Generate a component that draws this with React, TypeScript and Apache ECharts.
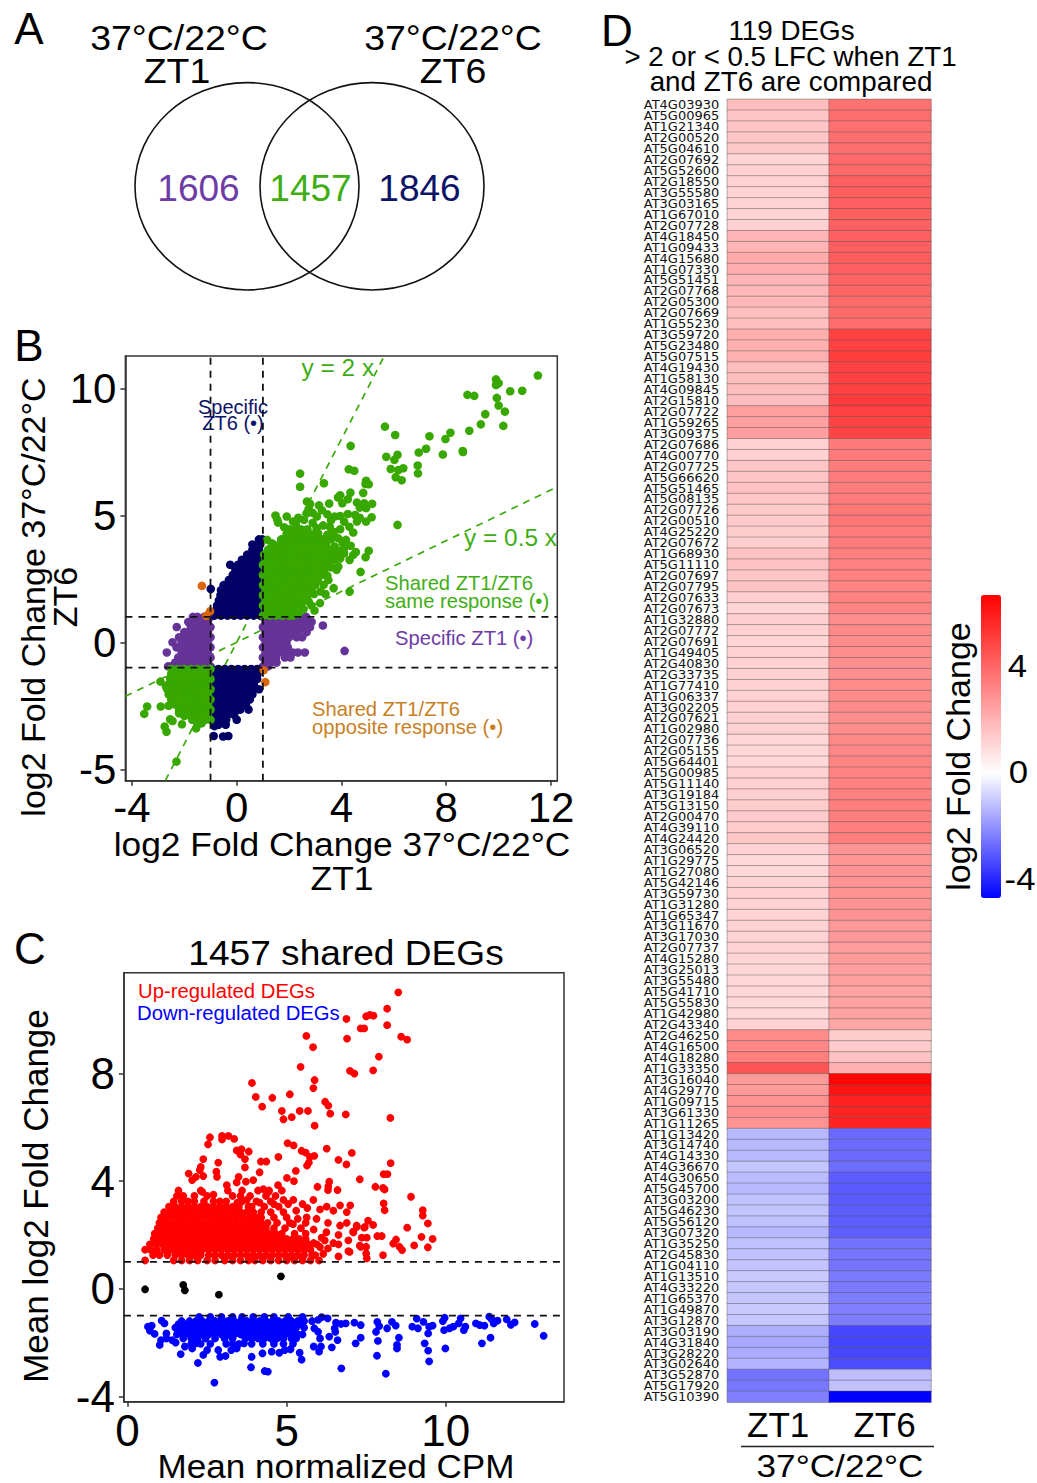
import React, { useEffect, useRef } from "react";
import * as echarts from "echarts";

type Row = [number, number[]];
const expand = (rows: Row[]) => rows.flatMap(([y, xs]) => xs.map((x) => [x, y]));

const geneLabels = ["AT4G03930","AT5G00965","AT1G21340","AT2G00520","AT5G04610","AT2G07692","AT5G52600","AT2G18550","AT3G55580","AT3G03165","AT1G67010","AT2G07728","AT4G18450","AT1G09433","AT4G15680","AT1G07330","AT5G51451","AT2G07768","AT2G05300","AT2G07669","AT1G55230","AT3G59720","AT5G23480","AT5G07515","AT4G19430","AT1G58130","AT4G09845","AT2G15810","AT2G07722","AT1G59265","AT3G09375","AT2G07686","AT4G00770","AT2G07725","AT5G66620","AT5G51465","AT5G08135","AT2G07726","AT2G00510","AT4G25220","AT2G07672","AT1G68930","AT5G11110","AT2G07697","AT2G07795","AT2G07633","AT2G07673","AT1G32880","AT2G07772","AT2G07691","AT1G49405","AT2G40830","AT2G33735","AT1G77410","AT1G06337","AT3G02205","AT2G07621","AT1G02980","AT2G07736","AT2G05155","AT5G64401","AT5G00985","AT5G11140","AT3G19184","AT5G13150","AT2G00470","AT4G39110","AT4G24420","AT3G06520","AT1G29775","AT1G27080","AT5G42146","AT3G59730","AT1G31280","AT1G65347","AT3G11670","AT3G17030","AT2G07737","AT4G15280","AT3G25013","AT3G55480","AT5G41710","AT5G55830","AT1G42980","AT2G43340","AT2G46250","AT4G16500","AT4G18280","AT1G33350","AT3G16040","AT4G29770","AT1G09715","AT3G61330","AT1G11265","AT1G13420","AT3G14740","AT4G14330","AT4G36670","AT4G30650","AT5G45700","AT3G03200","AT5G46230","AT5G56120","AT3G07320","AT1G35250","AT2G45830","AT1G04110","AT1G13510","AT4G33220","AT1G65370","AT1G49870","AT3G12870","AT3G03190","AT4G31840","AT3G28220","AT3G02640","AT3G52870","AT5G17920","AT5G10390"];
const heatColumns = ["ZT1", "ZT6"];
const zt1Values = [1.75,1.55,1.55,1.5,1.45,1.1,1.2,1.2,1.15,1.15,1.15,1.2,1.95,1.95,2.2,2.15,1.95,1.9,1.9,1.7,1.65,2.15,2.1,2.1,1.7,1.7,1.7,1.7,2.55,2.5,2.55,1.25,1.2,1.55,1.55,1.6,1.5,1.4,1.4,1.35,1.3,1.6,1.6,1.5,1.6,1.3,1.1,1.3,1.2,1.1,1.2,1.2,1.2,1.2,1.2,1.25,1.25,1.25,1.05,1.05,1,1.25,1.3,1.3,1.35,1.4,1.4,1.5,1.15,1,1.05,1.15,1.2,1.15,1.15,1.15,1.15,1.15,1.1,1.05,1.05,1,1,1,1.15,3.05,3.15,3.35,4.5,2.65,2.65,2.9,2.95,2.85,-1.3,-1.3,-1.3,-1.05,-1.25,-1.3,-1.15,-1.1,-1.15,-1.3,-1.15,-1.15,-1.1,-1,-1.05,-1.05,-1,-1.05,-1.5,-1.6,-1.55,-1.4,-2.6,-2.5,-2.35];
const zt6Values = [3.7,3.8,3.75,3.8,3.8,3.95,3.95,4.2,4.2,4.2,4.2,4.15,4.2,4.2,4.25,4.2,4.1,4.05,3.9,3.9,3.85,4.95,5,5.1,5,5,5,5.15,5,4.95,4.9,3.5,3.5,3.45,3.45,3.45,3.5,3.55,3.6,3.45,3.45,3.35,3.3,3.3,3.25,3.25,3.2,2.95,3.1,3.05,3,2.95,2.95,3.05,3.05,3.05,3,3,3.1,3.15,3.2,3.25,3.3,3.3,3.35,3.4,3.4,3.4,2.8,2.75,2.85,2.85,2.85,2.85,2.85,2.7,2.7,2.6,2.65,2.55,2.55,2.45,2.45,2.45,2.3,1.35,1.35,1.6,2.05,6.6,6.2,5.8,5.75,5.75,-2.75,-2.75,-2.75,-2.7,-3,-3.05,-3.05,-3,-3,-2.95,-2.6,-2.55,-2.55,-2.45,-2.45,-2.4,-2.35,-2.4,-3.4,-3.45,-3.4,-3.3,-1.2,-1.15,-4.7];

const bTicksX = [-4, 0, 4, 8, 12];
const bTicksY = [-5, 0, 5, 10];
const cTicksX = [0, 5, 10];
const cTicksY = [-4, 0, 4, 8];

const bGreenSolid: Row[] = [
[1.05,[1,1.25,1.5,1.75,2,2.15]],
[1.25,[1.1,1.35,1.6,1.85,2.1,2.3]],
[1.45,[1,1.25,1.5,1.75,2,2.25,2.45]],
[1.65,[1.1,1.35,1.6,1.85,2.1,2.35,2.6]],
[1.85,[1,1.25,1.5,1.75,2,2.25,2.5,2.7]],
[2.05,[1.1,1.35,1.6,1.85,2.1,2.35,2.6,2.85]],
[2.25,[1,1.25,1.5,1.75,2,2.25,2.5,2.75,3]],
[2.45,[1.1,1.35,1.6,1.85,2.1,2.35,2.6,2.85,3.1]],
[2.65,[1,1.25,1.5,1.75,2,2.25,2.5,2.75,3,3.25]],
[2.85,[1.1,1.35,1.6,1.85,2.1,2.35,2.6,2.85,3.1,3.35]],
[3.05,[1,1.25,1.5,1.75,2,2.25,2.5,2.75,3,3.25,3.5]],
[3.25,[1.1,1.35,1.6,1.85,2.1,2.35,2.6,2.85,3.1,3.35,3.6]],
[3.45,[1.05,1.25,1.5,1.75,2,2.25,2.5,2.75,3,3.25,3.5,3.7]],
[3.65,[1.2,1.4,1.6,1.85,2.1,2.35,2.6,2.85,3.1,3.35,3.6]],
[3.85,[1.4,1.65,1.9,2.15,2.4,2.65,2.9,3.15,3.4]],
[4.05,[1.7,1.95,2.2,2.45,2.7,2.95,3.2]],
[4.25,[1.9,2.15,2.4,2.65,2.9]],
[4.45,[2.2,2.45,2.7]],
];
const bGreenScatter = [[11.5,10.5],[9.9,10.35],[10,10.2],[9.9,10.13],[10.44,9.88],[10.9,9.9],[8.81,9.74],[9.07,9.7],[9.93,9.62],[10,9.32],[10.24,9.08],[9.49,8.98],[9.32,8.58],[10.18,8.52],[8.88,8.33],[8.16,8.25],[7.36,8.11],[7.97,8],[5.66,8.49],[6.05,8.16],[7.23,7.62],[6.95,7.47],[7.87,7.39],[8.63,7.53],[8.64,7.49],[5.71,7.3],[6.14,7.38],[6.02,7.18],[6.91,6.96],[6.36,6.85],[5.88,6.82],[6.17,6.78],[6.92,6.65],[6.07,6.5],[6.3,6.38],[6.14,4.62],[4.35,7.73],[4.28,6.81],[4.49,6.75],[2.42,6.64],[3.33,6.26],[2.42,6.12],[4.94,6.36],[4.92,6.23],[5.04,6.22],[4.34,5.89],[4.83,5.88],[3.95,5.79],[3.87,5.7],[4.24,5.63],[4.03,5.47],[3.53,5.46],[3.14,5.39],[2.68,5.54],[2.8,5.45],[4.59,5.5],[4.87,5.47],[5.17,5.45],[4.94,5.28],[4.52,5.01],[4.59,4.75],[4.94,4.75],[5.15,4.92],[4.24,5.05],[3.95,4.97],[3.74,4.95],[3.46,5.04],[3.06,4.95],[2.68,5.08],[2.57,4.82],[1.48,4.99],[1.55,4.82],[1.91,4.95],[1.58,4.71],[1.81,4.53],[2.26,4.69],[2.47,4.42],[3.11,4.29],[3.46,4.23],[3.74,4.16],[3.95,4.45],[4.45,4.32],[4.17,4.03],[3.88,4.09],[1.16,4.03],[1.34,3.9],[5.04,3.6],[4.92,3.35],[4.45,3.44],[4.31,3.24],[3.88,2.98],[3.81,2.85],[4.73,2.77],[3.46,2.62],[3.7,2.13],[4.31,1.99],[3.32,2.26],[3.39,1.9],[3.18,1.54],[2.97,1.25],[2.75,1.6],[4.1,3.5],[3.74,3.77],[4.1,3.7],[3.9,3.6],[3.95,3.3],[3.75,3.25],[3.6,2.95],[3.5,2.45],[3.2,2],[2.95,1.9],[2.85,1.45],[2.55,1.3],[2.35,1.1],[2.9,4.7],[3.3,4.6],[3.55,4.55],[2,4.45],[3.05,4.5],[2.75,5.25],[2.9,5.1],[3.25,5.2],[3.6,4.8],[4.1,4.75],[4.3,4.55],[2.35,4.9],[2.15,4.75],[4.7,5.3],[4.7,4.9],[3.7,4.35],[3.3,4.05],[3.6,4.05],[4.05,3.9],[4.35,3.8],[4.55,3.55],[3.9,3.4]];
const bGreenLowerSolid: Row[] = [
[-1.05,[-1,-1.25,-1.5,-1.75,-2,-2.25,-2.5]],
[-1.25,[-1.1,-1.35,-1.6,-1.85,-2.1,-2.35,-2.5]],
[-1.45,[-1,-1.25,-1.5,-1.75,-2,-2.25,-2.5]],
[-1.65,[-1.1,-1.35,-1.6,-1.85,-2.1,-2.35,-2.6]],
[-1.85,[-1,-1.25,-1.5,-1.75,-2,-2.25,-2.5,-2.65]],
[-2.05,[-1.1,-1.35,-1.6,-1.85,-2.1,-2.35,-2.6]],
[-2.25,[-1,-1.25,-1.5,-1.75,-2,-2.25,-2.5]],
[-2.45,[-1.1,-1.35,-1.6,-1.85,-2.1,-2.35]],
[-2.65,[-1,-1.25,-1.5,-1.75,-2,-2.2]],
[-2.85,[-1.1,-1.35,-1.6,-1.85]],
[-3.05,[-1,-1.2,-1.45]],
];
const bGreenLowerScatter = [[-2.91,-1.55],[-3.42,-2.53],[-3.53,-2.82],[-2.9,-2.53],[-2.54,-1.42],[-2.75,-3.32],[-2.68,-3.52],[-2.54,-3.03],[-2.45,-3.1],[-2.09,-3.23],[-1.55,-3.39],[-1.34,-3.19],[-1.5,-3.25],[-2.3,-4.7],[-2.7,-1.75],[-2.6,-2.5],[-2.2,-2.8],[-2,-2.9],[-1.7,-3.05]];
const bNavyUpper: Row[] = [
[1.05,[-0.85,-0.6,-0.35,-0.1,0.15,0.4,0.65,0.9]],
[1.25,[-0.8,-0.55,-0.3,-0.05,0.2,0.45,0.7,0.95]],
[1.45,[-0.75,-0.5,-0.25,0,0.25,0.5,0.75,0.95]],
[1.65,[-0.68,-0.45,-0.2,0.05,0.3,0.55,0.8]],
[1.85,[-0.62,-0.4,-0.15,0.1,0.35,0.6,0.85]],
[2.05,[-0.6,-0.35,-0.1,0.15,0.4,0.65,0.9]],
[2.25,[-0.5,-0.3,-0.05,0.2,0.45,0.7,0.95]],
[2.45,[-0.3,-0.05,0.2,0.45,0.7,0.95]],
[2.65,[-0.15,0.1,0.35,0.6,0.85]],
[2.85,[-0.05,0.2,0.45,0.7,0.95]],
[3.05,[-0.25,0.05,0.3,0.55,0.8]],
[3.25,[0.2,0.45,0.7,0.95]],
[3.45,[0.4,0.65,0.9]],
[3.65,[0.6,0.85]],
[3.85,[0.6,0.9]],
[4.05,[0.85,0.98]],
];
const bNavyExtra = [[-0.99,2.1]];
const bNavyLower: Row[] = [
[-1.05,[-0.95,-0.7,-0.45,-0.2,0.05,0.3,0.55,0.78]],
[-1.25,[-0.85,-0.6,-0.35,-0.1,0.15,0.4,0.65,0.8]],
[-1.45,[-0.95,-0.7,-0.45,-0.2,0.05,0.3,0.55,0.78]],
[-1.65,[-0.85,-0.6,-0.35,-0.1,0.15,0.4,0.65]],
[-1.85,[-0.95,-0.7,-0.45,-0.2,0.05,0.3,0.55,0.85]],
[-2.05,[-0.85,-0.6,-0.35,-0.1,0.15,0.4,0.6]],
[-2.25,[-0.95,-0.7,-0.45,-0.2,0.05,0.3,0.5]],
[-2.45,[-0.85,-0.6,-0.35,-0.1,0.15,0.35]],
[-2.65,[-0.95,-0.7,-0.45,-0.2,0.05,0.14,0.45]],
[-2.85,[-0.85,-0.6,-0.35,-0.1]],
[-3.05,[-0.92,-0.65,-0.4,0]],
[-3.25,[-0.7,-0.42]],
];
const bNavyLowerExtra = [[-0.88,-3.69],[-0.52,-3.71],[-0.32,-3.69],[-0.85,-3.3]];
const bPurpleLeft: Row[] = [
[1.0,[-1,-1.25,-1.5,-1.67]],
[0.8,[-1.1,-1.35,-1.6,-1.85]],
[0.6,[-1,-1.25,-1.5,-1.75,-2.29]],
[0.4,[-1.1,-1.35,-1.6,-1.85,-2.0]],
[0.2,[-1,-1.25,-1.5,-1.75,-2,-2.2]],
[0,[-1.1,-1.35,-1.6,-1.85,-2.1,-2.45]],
[-0.2,[-1,-1.25,-1.5,-1.75,-2,-2.3]],
[-0.4,[-1.1,-1.35,-1.6,-1.85,-2.1,-2.67]],
[-0.6,[-1,-1.25,-1.5,-1.75,-2,-2.23]],
[-0.8,[-1.1,-1.35,-1.6,-1.85,-2.1,-2.35]],
[-0.95,[-1,-1.25,-1.5,-1.75,-2,-2.25,-2.5,-2.62]],
];
const bPurpleRight: Row[] = [
[1.0,[1,1.25,1.5,1.75,2,2.25,2.45,2.65]],
[0.8,[1.1,1.35,1.6,1.85,2.1,2.35,2.6,2.86]],
[0.6,[1,1.25,1.5,1.75,2,2.25,2.5,2.8]],
[0.4,[1.1,1.35,1.6,1.85,2.1,2.35,2.67]],
[0.2,[1,1.25,1.5,1.75,2,2.29,2.5]],
[0,[1.1,1.35,1.6,1.9]],
[-0.2,[1,1.25,1.5,1.75,1.95]],
[-0.4,[1.1,1.35,1.6,1.84,2.15,2.34,2.6]],
[-0.6,[1,1.25,1.5,1.84,2.05]],
[-0.8,[1.1,1.3,1.52]],
[-0.95,[1,1.2]],
];
const bPurpleExtra = [[3.29,0.66],[4.12,-0.34]];
const bOrange = [[-1.33,2.22],[-1.02,1.22],[-1.16,1.04],[1.03,-1.1],[1.09,-1.57]];

const y2xLine = [[-2.725,-5.45],[5.635,11.27]];
const y05xLine = [[-4.25,-2.125],[12.24,6.12]];
const bVertA = [[-1,-5.45],[-1,11.27]];
const bVertB = [[1,-5.45],[1,11.27]];
const bHorA = [[-4.25,1],[12.24,1]];
const bHorB = [[-4.25,-1],[12.24,-1]];
const cHorA = [[-0.116,1],[13.72,1]];
const cHorB = [[-0.116,-1],[13.72,-1]];

const cRedRows: Row[] = [
[1.05,[0.55,1.45,1.7,1.95,2.2,2.5,2.75,3.05,3.3,3.55,3.8,4,4.25,4.5,4.75,5,5.25,5.5,5.75]],
[1.25,[0.8,1,1.25,1.5,1.7,1.9,2.1,2.3,2.55,2.75,2.95,3.15,3.35,3.55,3.75,3.95,4.15,4.35,4.55,4.75,4.95,5.15,5.35,5.55,5.8]],
[1.45,[0.55,0.72,0.92,1.15,1.35,1.55,1.75,1.95,2.15,2.35,2.55,2.75,2.95,3.15,3.35,3.55,3.75,3.95,4.15,4.35,4.55,4.75,4.95,5.15,5.35,5.55,5.75]],
[1.65,[0.7,0.9,1.1,1.3,1.5,1.7,1.9,2.1,2.3,2.5,2.7,2.9,3.1,3.3,3.5,3.7,3.9,4.1,4.3,4.5,4.7,4.9,5.1,5.3,5.5,5.7,5.95]],
[1.85,[0.82,1,1.2,1.4,1.6,1.8,2,2.2,2.4,2.6,2.8,3,3.2,3.4,3.6,3.8,4,4.2,4.4,4.6,4.8,5,5.2,5.4,5.6]],
[2.05,[0.85,1.05,1.25,1.45,1.65,1.85,2.05,2.25,2.45,2.65,2.85,3.05,3.25,3.45,3.65,3.85,4.05,4.25,4.45,4.65,4.85,5.25,5.6]],
[2.25,[0.95,1.15,1.35,1.55,1.75,1.95,2.15,2.35,2.55,2.75,2.95,3.15,3.35,3.55,3.75,3.95,4.15,4.35,4.6,4.95,5.45]],
[2.45,[1,1.2,1.4,1.6,1.8,2,2.2,2.4,2.6,2.8,3,3.2,3.4,3.6,3.8,4,4.2,4.4,4.7,5.1,5.6]],
[2.65,[1.05,1.25,1.45,1.65,1.85,2.05,2.25,2.45,2.65,2.85,3.05,3.25,3.45,3.65,3.85,4.05,4.2,4.6,5]],
[2.85,[1.15,1.35,1.55,1.75,1.95,2.15,2.35,2.55,2.75,2.95,3.15,3.35,3.55,3.75,3.95,4.2,4.5,4.9]],
[3.05,[1.3,1.5,1.7,1.9,2.1,2.3,2.5,2.7,2.9,3.1,3.3,3.5,3.9,4.3,4.75]],
[3.25,[1.45,1.7,1.9,2.1,2.4,2.7,3.1,3.6,4.05,4.5]],
[3.45,[1.55,1.75,2.1,2.5,3.3,3.85,4.35,4.65]],
[3.65,[1.6,2.3,3.15,3.6,4.1,4.45,4.85]],
];
const cRedScatter = [[8.51,11.02],[8.16,10.41],[6.88,10.03],[7.5,10.13],[7.62,10.18],[7.73,10.15],[7.33,9.68],[7.44,9.68],[8.16,9.8],[5.62,9.4],[6.9,9.3],[8.6,9.37],[8.79,9.26],[5.83,8.98],[7.9,8.63],[5.44,8.25],[7.72,8.12],[6.99,8.1],[7.13,8],[5.88,7.76],[3.91,7.65],[5.84,7.46],[5.1,7.23],[4.03,7.13],[4.55,7.1],[4.23,6.77],[6.21,6.95],[6.31,6.81],[4.85,6.61],[5.41,6.61],[5.67,6.61],[6.37,6.51],[6.86,6.48],[5.16,6.38],[4.9,6.3],[8.26,6.35],[5.88,6.06],[2.59,5.63],[2.53,5.37],[2.97,5.68],[2.97,5.55],[3.17,5.68],[3.35,5.57],[5.03,5.41],[5.22,5.33],[6.26,5.21],[3.43,5.14],[3.58,5.19],[3.81,5.1],[5.47,5.13],[5.6,5.06],[7.05,5.05],[3.55,4.99],[3.69,4.82],[4.74,4.9],[5.73,4.9],[5.87,4.94],[6.63,4.79],[4.19,4.73],[4.36,4.73],[2.85,4.69],[2.38,4.82],[6.88,4.62],[8.27,4.67],[5.7,4.69],[5.64,4.58],[2.3,4.53],[2.27,4.41],[3.69,4.51],[2.79,4.35],[5.29,4.38],[4.15,4.33],[1.92,4.28],[7.3,4.07],[8.05,4.26],[8.17,4.26],[5.01,4.12],[5.23,4],[3.95,4.04],[3.72,3.98],[3.49,4.16],[2.81,4.16],[2.38,4.19],[2.15,4.16],[2.03,4.04],[6.34,3.98],[6.31,3.81],[5.97,3.79],[7.79,3.79],[8.03,3.75],[8.08,3.69],[6.6,3.67],[6.3,3.67],[8.91,3.42],[8.05,3.17],[8.08,2.92],[9.28,2.92],[9.28,2.72],[9.44,2.43],[8.79,2.27],[7.56,2.53],[7.72,2.37],[7.44,2.27],[7.21,2.3],[7.09,2.12],[7.85,1.96],[7.99,1.96],[9.24,1.93],[9.59,1.85],[8.44,1.83],[8.35,1.68],[8.55,1.56],[8.63,1.44],[9.01,1.61],[9.44,1.54],[8.03,1.25],[7.5,1.56],[7.5,1.31],[7.33,1.56],[7.52,1.13],[6.98,1.37],[3.12,3.85],[3.43,3.95],[4.27,3.7],[4.73,3.85],[4.43,3.6],[4.9,3.3],[5.21,3.3],[5.84,3.3],[6.26,3.05],[6.68,3.1],[7,3.1],[6.89,2.85],[6.47,2.9],[6.05,2.95],[5.63,2.65],[5.94,2.6],[6.3,2.45],[6.89,2.45],[6.68,2.35],[7.2,2.35],[7.46,2.3],[7.1,2.1],[7.36,1.9],[7.52,1.9],[6.63,2],[6.94,1.8],[6.47,1.7],[6.63,1.65],[7.3,1.6],[6.94,1.4],[6.63,1.2],[6.3,1.5],[6.15,1.3],[6.02,1.05],[5.2,1.15],[6.1,1.9],[6.25,2.1],[5.85,2.2],[5.65,3],[5.5,3.15],[5.3,2.9],[5.85,1.7],[6.05,1.55],[5.9,1.25],[6.2,1.8],[3.75,3.3],[3.45,3.2],[3.8,3.05],[4.6,3.15],[4.15,3.2],[2.9,3.25],[2.7,3.5],[2.35,3.6],[3.55,3.45],[5.05,3.15],[5.35,2.6],[5.2,2.4]];
const cBlack = [[0.55,-0.02],[1.75,0.14],[1.8,-0.06],[2.87,-0.22],[4.82,0.46]];
const cBlueRows: Row[] = [
[-1.05,[2.25,2.6,2.95,3.3,3.6,3.95,4.3,4.6,5.05,5.5]],
[-1.2,[1.7,1.95,2.15,2.35,2.55,2.75,2.95,3.15,3.35,3.55,3.75,3.95,4.15,4.35,4.55,4.75,4.95,5.15,5.35,5.55,5.8]],
[-1.32,[1.6,1.85,2.05,2.25,2.45,2.65,2.85,3.05,3.25,3.45,3.65,3.85,4.05,4.25,4.45,4.65,4.85,5.05,5.25,5.45]],
[-1.45,[1.5,1.7,1.9,2.1,2.3,2.5,2.7,2.9,3.1,3.3,3.5,3.7,3.9,4.1,4.3,4.5,4.7,4.9,5.1,5.3,5.55]],
[-1.58,[1.65,1.85,2.05,2.25,2.45,2.65,2.85,3.05,3.25,3.45,3.65,3.85,4.05,4.25,4.45,4.65,4.85,5.05,5.25]],
[-1.7,[1.55,1.75,1.95,2.15,2.35,2.55,2.75,2.95,3.15,3.35,3.55,3.75,3.95,4.15,4.35,4.55,4.75,4.95,5.15,5.35,5.5]],
[-1.85,[1.75,2,2.2,2.45,2.75,3.05,3.3,3.7,3.9,4.1,4.3,4.5,4.7,4.9,5.15,5.3]],
[-2.05,[2,2.3,2.6,3.1,3.3,3.5,3.9,4.25,4.6,4.9,5.2]],
];
const cBlueScatter = [[13.08,-1.75],[12.8,-1.31],[12.17,-1.25],[12.05,-1.34],[11.92,-1.14],[11.63,-1.19],[11.51,-1.29],[11.37,-1.04],[11.45,-1.14],[11.22,-1.37],[11.07,-1.35],[10.95,-1.29],[11.41,-1.82],[11.14,-2.03],[10.57,-1.54],[10.62,-1.41],[10.47,-1.1],[10.41,-1.29],[10.24,-1.41],[10.12,-1.47],[9.97,-1.08],[9.91,-1.2],[9.95,-1.54],[9.99,-2.22],[9.59,-1.37],[9.48,-1.41],[9.3,-1.23],[9.09,-1.11],[9.13,-1.47],[8.95,-1.41],[9.45,-1.66],[9.34,-2.03],[9.45,-2.3],[9.48,-2.7],[8.53,-1.82],[8.47,-2.09],[8.47,-2.22],[7.84,-2.49],[8.12,-3.16],[8.43,-1.37],[8.31,-1.23],[8.16,-1.47],[7.85,-1.23],[7.91,-1.39],[7.81,-1.6],[7.87,-1.94],[7.33,-1.82],[7.17,-2.03],[7.33,-1.35],[7.13,-1.26],[6.86,-1.29],[6.71,-1.31],[6.55,-1.26],[6.51,-1.47],[6.53,-1.6],[6.6,-1.91],[6.72,-2.96],[6.42,-2.18],[6.34,-1.78],[6.29,-1.1],[6.1,-1.06],[5.99,-1.16],[5.99,-1.6],[5.87,-1.47],[6.05,-1.85],[6.08,-2.15],[5.85,-2.15],[6.02,-2.34],[5.47,-2.64],[5.41,-2.38],[5.12,-2.25],[3.9,-2.53],[3.88,-2.92],[4.31,-3.06],[4.41,-3.08],[2.73,-3.49],[2.21,-2.76],[1.67,-2.43],[2.38,-2.46],[2.91,-2.53],[3.08,-2.5],[1.01,-2.09],[0.76,-1.37],[0.64,-1.41],[0.7,-1.56],[0.85,-1.68],[1.07,-1.19],[1.16,-1.29],[1.22,-1.66],[1.05,-1.91],[1.22,-1.85],[1.4,-1.91],[1.51,-2],[3.26,-2.28],[3.43,-2.22],[3.66,-2.03],[4.24,-2.4],[4.53,-2.34],[4.77,-2.38],[4.94,-2.28],[1.8,-2.15],[2.03,-2.22],[2.15,-2.03],[2.5,-2.28],[2.85,-2.28]];

const heatMin = -4.7;
const heatMax = 6.7;
const ramp = Array.from({ length: 115 }, (_, i) => {
  const v = heatMin + i * 0.1;
  const k = v >= 0 ? Math.round(255 * (1 - v / heatMax)) : Math.round(255 * (1 - v / heatMin));
  return v >= 0 ? `rgb(255,${k},${k})` : `rgb(${k},${k},255)`;
});

const SANS = "Liberation Sans";
const GREEN = "#38a800";
const NAVY = "#000066";
const PURPLE = "#663399";
const ORANGE = "#d9660a";
const TXT_GREEN = "#3fae14";
const TXT_NAVY = "#0c1468";
const TXT_PURPLE = "#6d3ca6";
const TXT_ORANGE = "#c8801f";

function t(text: string, x: number, y: number, size: number, fill = "#000", opts: any = {}) {
  return {
    type: "text",
    x,
    y,
    rotation: opts.rot || 0,
    scaleX: opts.sx || 1,
    z: 20,
    silent: true,
    style: { text, fontSize: size, fontFamily: SANS, fill, align: opts.align || "center", verticalAlign: "middle" },
  };
}

function scatter(data: number[][], color: string, size: number, axis: number, z: number) {
  return { type: "scatter", xAxisIndex: axis, yAxisIndex: axis, data, symbolSize: size, z, silent: true, itemStyle: { color, opacity: 1 } };
}
function dash(data: number[][], color: string, width: number, axis: number, z: number, pattern = [7, 6]) {
  return { type: "line", xAxisIndex: axis, yAxisIndex: axis, data, z, silent: true, showSymbol: false, symbol: "none", lineStyle: { color, width, type: pattern } };
}
function valueAxis(min: number, max: number, ticks: number[], gridIndex: number, pos: string, margin: number, fontSize: number) {
  return {
    type: "value", gridIndex, min, max, position: pos, scale: true,
    splitLine: { show: false },
    axisLine: { show: true, onZero: false, lineStyle: { color: "#333", width: 1.5 } },
    axisTick: { show: true, length: 5, inside: false, customValues: ticks, lineStyle: { color: "#333", width: 1.5 } },
    axisLabel: { customValues: ticks, fontSize, fontFamily: SANS, color: "#000", margin, hideOverlap: false, showMinLabel: true, showMaxLabel: true },
  };
}

export default function App() {
  const ref = useRef<HTMLDivElement>(null);
  useEffect(() => {
    const chart = echarts.init(ref.current!, undefined, { renderer: "svg" });
    const heatData = [
      ...zt1Values.map((v, i) => [0, i, v]),
      ...zt6Values.map((v, i) => [1, i, v]),
    ];
    chart.setOption({
      animation: false,
      backgroundColor: "#fff",
      grid: [
        { left: 125.4, top: 356, width: 431.9, height: 424.7, show: true, borderColor: "#333", borderWidth: 1.5, backgroundColor: "transparent" },
        { left: 123.9, top: 972.7, width: 440.1, height: 429, show: true, borderColor: "#333", borderWidth: 1.5, backgroundColor: "transparent" },
        { left: 727.3, top: 99.3, width: 203.7, height: 1303, show: false },
      ],
      xAxis: [
        valueAxis(-4.25, 12.24, bTicksX, 0, "bottom", 6, 42),
        valueAxis(-0.116, 13.72, cTicksX, 1, "bottom", 7, 44),
        {
          type: "category", gridIndex: 2, data: heatColumns, axisLine: { show: false }, axisTick: { show: false }, splitArea: { show: false },
          axisLabel: {
            interval: 0, showMinLabel: true, showMaxLabel: true, hideOverlap: false, fontSize: 35, fontFamily: SANS, color: "#000", margin: 5,
            formatter: (v: string) => (v === "ZT6" ? `{b|${v}}` : `{a|${v}}`),
            rich: { a: { fontSize: 35, fontFamily: SANS, color: "#000" }, b: { fontSize: 35, fontFamily: SANS, color: "#000", padding: [0, 0, 0, 9] } },
          },
        },
      ],
      yAxis: [
        valueAxis(-5.45, 11.27, bTicksY, 0, "left", 9, 42),
        valueAxis(-4.2, 11.75, cTicksY, 1, "left", 9, 44),
        { type: "category", gridIndex: 2, data: geneLabels, inverse: true, axisLine: { show: false }, axisTick: { show: false }, splitArea: { show: false }, axisLabel: { interval: 0, fontSize: 13, fontFamily: "DejaVu Sans", color: "#111", margin: 8, hideOverlap: false } },
      ],
      visualMap: [{
        type: "continuous", seriesIndex: 0, min: heatMin, max: heatMax, left: 981, top: 595, itemWidth: 20, itemHeight: 303,
        calculable: false, hoverLink: false, text: ["", ""], textGap: 0, inRange: { color: ramp }, padding: 0, showLabel: false,
      }],
      series: [
        { type: "heatmap", xAxisIndex: 2, yAxisIndex: 2, data: heatData, silent: true, label: { show: false }, itemStyle: { borderColor: "rgba(85,85,85,0.55)", borderWidth: 0.8 } },
        dash(y2xLine, "#3aaa0a", 1.7, 0, 1),
        dash(y05xLine, "#3aaa0a", 1.7, 0, 1),
        scatter(bPurpleExtra.concat(expand(bPurpleLeft), expand(bPurpleRight)), PURPLE, 8.6, 0, 2),
        scatter(bNavyExtra.concat(expand(bNavyUpper), expand(bNavyLower), bNavyLowerExtra), NAVY, 8.6, 0, 3),
        scatter(expand(bGreenSolid).concat(bGreenScatter, expand(bGreenLowerSolid), bGreenLowerScatter), GREEN, 8.6, 0, 4),
        scatter(bOrange, ORANGE, 8.6, 0, 5),
        dash(bVertA, "#111", 1.8, 0, 6),
        dash(bVertB, "#111", 1.8, 0, 6),
        dash(bHorA, "#111", 1.8, 0, 6),
        dash(bHorB, "#111", 1.8, 0, 6),
        scatter(expand(cRedRows).concat(cRedScatter), "#ff0000", 7.8, 1, 2),
        scatter(expand(cBlueRows).concat(cBlueScatter), "#0000ff", 7.8, 1, 2),
        scatter(cBlack, "#000", 7.8, 1, 2),
        dash(cHorA, "#111", 1.8, 1, 6),
        dash(cHorB, "#111", 1.8, 1, 6),
      ],
      graphic: [
        { type: "ellipse", shape: { cx: 247, cy: 186.3, rx: 112, ry: 103.7 }, style: { fill: "none", stroke: "#111", lineWidth: 1.6 }, silent: true },
        { type: "ellipse", shape: { cx: 372, cy: 186.3, rx: 112, ry: 103.7 }, style: { fill: "none", stroke: "#111", lineWidth: 1.6 }, silent: true },
        t("A", 29, 28, 44),
        t("B", 29, 345, 44),
        t("C", 30, 948, 44),
        t("D", 617, 30, 44),
        t("37°C/22°C", 179, 38, 35, "#000", { sx: 1.07 }),
        t("ZT1", 177, 71, 35, "#000", { sx: 1.07 }),
        t("37°C/22°C", 453, 38, 35, "#000", { sx: 1.07 }),
        t("ZT6", 453, 71, 35, "#000", { sx: 1.07 }),
        t("1606", 198.5, 189, 36, TXT_PURPLE, { sx: 1.03 }),
        t("1457", 310.5, 189, 36, TXT_GREEN, { sx: 1.03 }),
        t("1846", 419.5, 189, 36, TXT_NAVY, { sx: 1.03 }),
        t("log2 Fold Change 37°C/22°C", 342, 844, 34, "#000", { sx: 1.04 }),
        t("ZT1", 342, 878, 34, "#000", { sx: 1.04 }),
        t("log2 Fold Change 37°C/22°C", 33, 597, 34, "#000", { rot: Math.PI / 2 }),
        t("ZT6", 65, 597, 34, "#000", { rot: Math.PI / 2 }),
        t("y = 2 x", 301.5, 368, 23.5, TXT_GREEN, { align: "left", sx: 1.04 }),
        t("y = 0.5 x", 464, 538, 23.5, TXT_GREEN, { align: "left", sx: 1.04 }),
        t("Specific", 233, 407, 20, TXT_NAVY),
        t("ZT6 (•)", 233, 423, 20, TXT_NAVY),
        t("Shared ZT1/ZT6", 385, 583, 20.2, TXT_GREEN, { align: "left" }),
        t("same response (•)", 385, 601, 20.2, TXT_GREEN, { align: "left" }),
        t("Specific ZT1 (•)", 395, 638, 20.2, TXT_PURPLE, { align: "left" }),
        t("Shared ZT1/ZT6", 312, 709, 20.2, TXT_ORANGE, { align: "left" }),
        t("opposite response (•)", 312, 727, 20.2, TXT_ORANGE, { align: "left" }),
        t("1457 shared DEGs", 346, 953, 35, "#000", { sx: 1.06 }),
        t("Up-regulated DEGs", 138, 991, 19.5, "#ff0000", { align: "left", sx: 1.04 }),
        t("Down-regulated DEGs", 137, 1013, 19.5, "#0000ff", { align: "left", sx: 1.04 }),
        t("Mean log2 Fold Change", 35, 1196, 35, "#000", { rot: Math.PI / 2 }),
        t("Mean normalized CPM", 336, 1466, 32.5, "#000", { sx: 1.08 }),
        t("119 DEGs", 791.5, 31, 27, "#000", { sx: 1.03 }),
        t("> 2 or < 0.5 LFC when ZT1", 790.5, 56.5, 27, "#000", { sx: 1.025 }),
        t("and ZT6 are compared", 791, 81.5, 27, "#000", { sx: 1.03 }),
        { type: "line", shape: { x1: 741, y1: 1446.5, x2: 934, y2: 1446.5 }, style: { stroke: "#222", lineWidth: 1.5 }, silent: true },
        t("37°C/22°C", 840, 1466, 32, "#000", { sx: 1.1 }),
        t("log2 Fold Change", 958, 756.5, 34, "#000", { rot: Math.PI / 2 }),
        t("4", 1017.5, 666, 31, "#000", { sx: 1.12 }),
        t("0", 1018.5, 772, 31, "#000", { sx: 1.12 }),
        t("-4", 1020, 879, 31, "#000", { sx: 1.12 }),
      ],
    });
    return () => chart.dispose();
  }, []);
  return <div ref={ref} style={{ position: "absolute", left: 0, top: 0, width: 1037, height: 1483 }} />;
}
